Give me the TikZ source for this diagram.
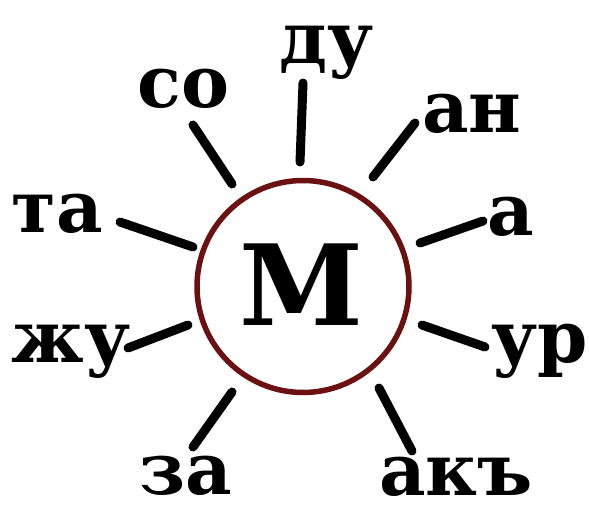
\documentclass[tikz,border=0pt]{standalone}
\usepackage{fontspec}
\setmainfont{DejaVu Serif}
\definecolor{bgblue}{HTML}{D0E4F4}
\definecolor{ringred}{HTML}{6B1111}
\pgfdeclareradialshading{bgshade}{\pgfpoint{0bp}{0bp}}{color(0bp)=(white); color(28bp)=(white); color(50bp)=(bgblue)}
\tikzset{
  spoke/.style={line width=9pt, line cap=round, black},
  syl/.style={anchor=base, inner sep=0pt, font=\fontsize{72}{72}\selectfont\bfseries},
  ring/.style={draw=ringred, line width=5.5pt},
}
\begin{document}
\begin{tikzpicture}[x=1pt,y=-1pt]
\useasboundingbox (0,0) rectangle (589,506);
\begin{scope}
\clip (0,0) rectangle (589,506);
\shade[shading=bgshade] (295,100) circle (505pt);
\end{scope}
% centre
\node[ring, circle, minimum size=212pt, inner sep=0pt] (c) at (303,286.5) {};
\node[anchor=base, inner sep=0pt, font=\fontsize{112}{112}\selectfont\bfseries] (m) at (301,325) {М};
% syllables
\node[syl] (so) at (183.5,107) {со};
\node[syl] (du) at (327,63) {ду};
\node[syl] (an) at (472,132) {ан};
\node[syl] (a) at (511,235) {а};
\node[syl] (ta) at (57,232) {та};
\node[syl] (zhu) at (71,362) {жу};
\node[syl] (ur) at (540,362) {ур};
\node[syl] (za) at (186,494) {за};
\node[syl] (aku) at (456,495) {акъ};
% spoke ends
\coordinate (so1) at (193,125);  \coordinate (so2) at (232,184);
\coordinate (du1) at (303,83);   \coordinate (du2) at (300,162);
\coordinate (an1) at (415,123);  \coordinate (an2) at (373,177);
\coordinate (a1) at (483,221);   \coordinate (a2) at (420,243);
\coordinate (ur1) at (485,347);  \coordinate (ur2) at (422,325);
\coordinate (ak1) at (412,451);  \coordinate (ak2) at (379,388);
\coordinate (za1) at (193,447);  \coordinate (za2) at (232,392);
\coordinate (zh1) at (128,348);  \coordinate (zh2) at (188,325);
\coordinate (ta1) at (120,222);  \coordinate (ta2) at (193,247);
\draw[spoke] (so1) -- (so2);
\draw[spoke] (du1) -- (du2);
\draw[spoke] (an1) -- (an2);
\draw[spoke] (a1) -- (a2);
\draw[spoke] (ur1) -- (ur2);
\draw[spoke] (ak1) -- (ak2);
\draw[spoke] (za1) -- (za2);
\draw[spoke] (zh1) -- (zh2);
\draw[spoke] (ta1) -- (ta2);
\end{tikzpicture}
\end{document}
